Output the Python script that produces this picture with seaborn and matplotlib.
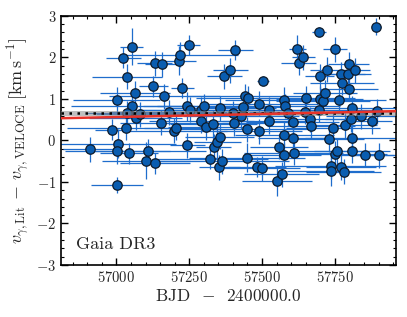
import numpy as np
import pandas as pd
import matplotlib
matplotlib.use("Agg")
import matplotlib.pyplot as plt
import seaborn as sns

# ---- data ----
bjd = [56908, 56986, 57001, 57005, 57003, 57002, 57023, 57036, 57032, 57044,
       57053, 57055, 57063, 57066, 57035, 57101, 57109, 57126, 57132, 57132,
       57157, 57164, 57152, 57179, 57199, 57204, 57215, 57219, 57226, 57243,
       57243, 57248, 57253, 57290, 57291, 57301, 57306, 57333, 57321, 57334,
       57347, 57354, 57353, 57363, 57357, 57371, 57391, 57403, 57408, 57427,
       57434, 57441, 57452, 57447, 57449, 57482, 57488, 57491, 57500, 57503,
       57524, 57523, 57550, 57557, 57567, 57574, 57578, 57576, 57574, 57605,
       57605, 57609, 57621, 57626, 57642, 57646, 57650, 57666, 57668, 57696,
       57698, 57698, 57696, 57709, 57716, 57724, 57731, 57736, 57736, 57744,
       57749, 57751, 57759, 57764, 57770, 57772, 57776, 57780, 57786, 57794,
       57798, 57798, 57806, 57808, 57808, 57810, 57820, 57840, 57853, 57877,
       57892, 57894, 57903, 57080, 57400, 57590]
dv = [-0.21, 0.26, 0.98, -0.08, -0.26, -1.07, 1.99, 1.53, 0.30, -0.31,
      2.26, 0.84, 1.14, 0.54, 0.66, -0.49, -0.26, 1.30, 1.86, -0.55,
      1.83, 1.06, 0.43, 0.68, 0.23, 0.30, 1.92, 2.06, 1.26, 0.82,
      -0.12, 2.30, 0.74, 0.74, 0.47, 0.83, 0.32, 0.39, -0.45, -0.15,
      -0.03, 0.09, -0.65, -0.50, 0.77, 1.55, 1.69, 0.41, 2.18, 0.58,
      0.80, 1.06, 1.01, 0.27, -0.42, -0.64, 0.22, 0.88, -0.67, 1.44,
      0.74, 0.46, -0.98, -0.15, -0.82, 0.98, 0.83, 0.14, -0.35, 0.44,
      0.05, -0.30, 2.19, 1.87, 2.00, 0.69, 1.01, 0.51, 0.35, 2.62,
      1.54, 1.00, 0.74, 0.96, 1.15, 1.70, 0.03, -0.62, -0.74, 0.29,
      -0.32, 2.20, -0.26, 0.98, -0.65, 1.60, 1.39, -0.75, 0.36, 1.60,
      1.83, 1.25, 0.51, 0.06, -0.25, 0.77, 1.69, 0.58, -0.35, 0.46,
      2.74, 0.70, -0.36, 0.63, 0.66, 0.65]
bjd_err = [90, 60, 150, 200, 180, 90, 60, 120, 200, 100,
           40, 210, 120, 160, 140, 150, 200, 50, 60, 120,
           60, 190, 140, 200, 180, 110, 60, 200, 40, 150,
           60, 40, 180, 220, 180, 160, 130, 150, 200, 60,
           80, 120, 70, 230, 190, 60, 60, 120, 60, 200,
           150, 200, 180, 230, 200, 100, 150, 200, 130, 20,
           180, 160, 120, 100, 130, 200, 190, 170, 130, 160,
           120, 170, 30, 60, 40, 190, 170, 140, 150, 25,
           50, 150, 200, 160, 110, 60, 120, 190, 150, 160,
           180, 40, 150, 160, 120, 80, 110, 130, 110, 80,
           70, 100, 90, 160, 130, 150, 50, 120, 100, 70,
           15, 90, 90, 150, 200, 180]
dv_err = [0.30, 0.25, 0.30, 0.35, 0.30, 0.20, 0.25, 0.30, 0.30, 0.25,
          0.45, 0.35, 0.30, 0.30, 0.30, 0.45, 0.30, 0.25, 0.30, 0.25,
          0.30, 0.30, 0.30, 0.30, 0.30, 0.30, 0.35, 0.30, 0.25, 0.35,
          0.30, 0.25, 0.30, 0.30, 0.30, 0.30, 0.30, 0.35, 0.25, 0.30,
          0.40, 0.30, 0.30, 0.30, 0.30, 0.30, 0.30, 0.30, 0.25, 0.30,
          0.30, 0.30, 0.30, 0.30, 0.35, 0.25, 0.30, 0.30, 0.30, 0.10,
          0.30, 0.30, 0.35, 0.30, 0.30, 0.30, 0.30, 0.30, 0.30, 0.30,
          0.30, 0.30, 0.35, 0.30, 0.30, 0.30, 0.30, 0.30, 0.30, 0.10,
          0.30, 0.30, 0.30, 0.30, 0.30, 0.30, 0.30, 0.30, 0.35, 0.35,
          0.30, 0.30, 0.30, 0.30, 0.30, 0.30, 0.30, 0.30, 0.30, 0.30,
          0.30, 0.30, 0.30, 0.30, 0.30, 0.30, 0.30, 0.30, 0.30, 0.30,
          0.20, 0.30, 0.30, 0.30, 0.30, 0.30]

mean_offset = 0.65
band_lo, band_hi = 0.59, 0.72
trend_x = [56810, 57960]
trend_y = [0.535, 0.705]

df = pd.DataFrame({"bjd": bjd, "dv": dv, "bjd_err": bjd_err, "dv_err": dv_err})

sns.set_theme(style="ticks")
plt.rcParams.update({
    "font.family": "serif",
    "font.serif": ["cmr10", "DejaVu Serif"],
    "mathtext.fontset": "cm",
    "axes.formatter.use_mathtext": True,
    "axes.unicode_minus": True,
    "xtick.direction": "in",
    "ytick.direction": "in",
    "xtick.top": True,
    "ytick.right": True,
})

fig = plt.figure(figsize=(4.07, 3.17), dpi=100)
ax = fig.add_axes([0.150, 0.164, 0.823, 0.786])

ax.errorbar(df["bjd"], df["dv"], xerr=df["bjd_err"], yerr=df["dv_err"],
            fmt="none", ecolor="#1f6dcc", elinewidth=0.9, zorder=1)
sns.scatterplot(data=df, x="bjd", y="dv", ax=ax, s=46, color="#0a5db0",
                edgecolor="#0d1a2a", linewidth=0.9, zorder=2, legend=False)

ax.axhspan(band_lo, band_hi, color="0.55", alpha=0.55, lw=0, zorder=3)
ax.axhline(mean_offset, color="black", ls=(0, (1, 2.2)), lw=1.8, zorder=4)
ax.plot(trend_x, trend_y, color="#e8332a", lw=1.8, zorder=5)

ax.set_xlim(56810, 57960)
ax.set_ylim(-3, 3)
ax.set_xticks([57000, 57250, 57500, 57750])
ax.xaxis.set_minor_locator(matplotlib.ticker.MultipleLocator(50))
ax.yaxis.set_major_locator(matplotlib.ticker.MultipleLocator(1))
ax.yaxis.set_minor_locator(matplotlib.ticker.MultipleLocator(0.2))
ax.tick_params(which="major", length=5, width=1.0, labelsize=10.5, color="black")
ax.tick_params(which="minor", length=2.5, width=0.8, color="black")
for sp in ax.spines.values():
    sp.set_linewidth(1.2)
    sp.set_color("black")

ax.set_xlabel(r"BJD  $-$  2400000.0", fontsize=12.5, labelpad=2)
ax.set_ylabel(r"$v_{\gamma,\mathrm{Lit}}\,-\,v_{\gamma,\mathrm{VELOCE}}\;[\mathrm{km\,s^{-1}}]$",
              fontsize=13, labelpad=3)
ax.text(0.045, 0.065, "Gaia DR3", transform=ax.transAxes, fontsize=13, color="0.15")

fig.savefig("out.png", dpi=100)
